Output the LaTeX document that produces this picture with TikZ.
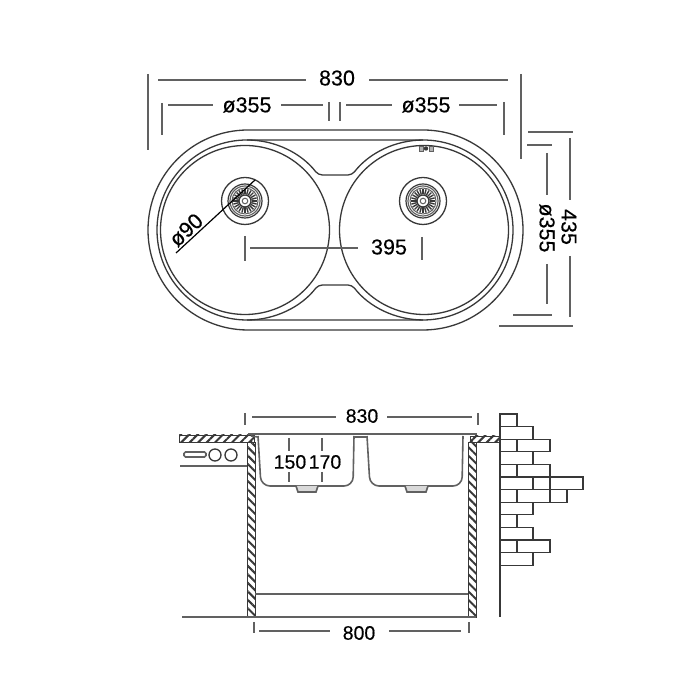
\documentclass[tikz,border=0pt]{standalone}
\usepackage{fontspec}
\setmainfont{Liberation Sans}
\usetikzlibrary{patterns.meta}
\definecolor{inkdark}{gray}{0.22}
\definecolor{inkdim}{gray}{0.38}
\newfontfamily\dimfont[FakeBold=0.35]{Liberation Sans}
\tikzset{
	outline/.style={draw=inkdark,line width=1.3},
	sink/.style={draw=inkdim,line width=1.6},
	dim/.style={draw=inkdim,line width=1.9},
	dimtext/.style={text=black,inner sep=0pt,font=\dimfont\fontsize{21.5}{22}\selectfont},
	dimsmall/.style={dimtext,font=\dimfont\fontsize{19.5}{20}\selectfont},
	hatched/.style={draw=inkdark,line width=0.8,pattern={Lines[angle=#1,distance=6pt,line width=2pt]},pattern color=inkdark},
	brick/.style={draw=inkdark,line width=1.2}
}
\begin{document}
\begin{tikzpicture}[x=1pt,y=1pt]
	\useasboundingbox (0,0) rectangle (700,700);
	% plan view: rim
	\draw [outline] (248,570) arc (90:270:100) -- (423,370) arc (-90:90:100) -- cycle;
	\draw [outline] (247,560) arc (90:270:90) -- (423,380) arc (-90:90:90) -- cycle;
	\draw [outline,rounded corners=4pt] (247,560) arc (90:37.7:90) -- (352,525) arc (142.3:90:90);
	\draw [outline,rounded corners=4pt] (247,380) arc (-90:-37.7:90) -- (352,415) arc (-142.3:-90:90);
	\draw [outline] (245,470) circle (84.5);
	\draw [outline] (424,470) circle (84.5);
	% drains
	\foreach \cx in {245,423} {
		\begin{scope}[shift={(\cx,499)}]
			\draw [outline] (0,0) circle (23.5);
			\draw [draw=inkdark,line width=1.2] (0,0) circle (17);
			\draw [draw=inkdim,line width=1.2] (0,0) circle (15);
			\draw [draw=inkdim,line width=1] (0,0) circle (13);
			\foreach \a in {0,15,...,345}
				\draw [draw=inkdark,line width=1.4] (\a:6.5) -- (\a:12);
			\draw [outline] (0,0) circle (6);
			\draw [draw=inkdim,line width=1] (0,0) circle (2.8);
		\end{scope}
	}
	% small mark on the rim
	\draw [draw=inkdim,line width=0.9,fill=black!30] (419,549) rectangle (423,554);
	\fill [inkdark] (426,551.5) circle (2.2);
	\draw [draw=inkdim,line width=0.9,fill=black!30] (429,549) rectangle (433,554);
	% o90 leader
	\draw [draw=black,line width=1.2] (176,447) -- (255,520);
	\node [dimtext,rotate=43] (radius90) at (186,470) {ø90};
	% plan view: width dimensions
	\node [dimtext] (width830) at (337,622) {830};
	\draw [dim] (158,620) -- (306,620);
	\draw [dim] (369,620) -- (508,620);
	\draw [dim] (148,626) -- (148,550);
	\draw [dim] (521,626) -- (521,541);
	\node [dimtext] (bowlleft) at (247,595) {ø355};
	\node [dimtext] (bowlright) at (426,595) {ø355};
	\draw [dim] (168,595) -- (213,595);
	\draw [dim] (281,595) -- (323,595);
	\draw [dim] (346,595) -- (392,595);
	\draw [dim] (459,595) -- (497,595);
	\draw [dim] (162,597) -- (162,565);
	\draw [dim] (329,598) -- (329,579);
	\draw [dim] (340,598) -- (340,579);
	\draw [dim] (504,598) -- (504,565);
	% centre distance
	\node [dimtext] (centres395) at (389,453) {395};
	\draw [dim] (250,452) -- (358,452);
	\draw [dim] (245,464) -- (245,439);
	\draw [dim] (422,463) -- (422,440);
	% plan view: height dimensions
	\node [dimtext,rotate=-90] (height435) at (569,473) {435};
	\draw [dim] (528,568) -- (573,568);
	\draw [dim] (499,374) -- (573,374);
	\draw [dim] (570,562) -- (570,500);
	\draw [dim] (570,444) -- (570,383);
	\node [dimtext,rotate=-90] (bowlheight) at (547,472) {ø355};
	\draw [dim] (527,555) -- (552,555);
	\draw [dim] (513,385) -- (552,385);
	\draw [dim] (547,547) -- (547,505);
	\draw [dim] (547,436) -- (547,396);
	% section: counter and cabinet walls
	\draw [hatched=45] (179,265) rectangle (254,258);
	\draw [hatched=45] (470,264) rectangle (500,258);
	\draw [hatched=-45] (247,258) rectangle (255,83);
	\draw [hatched=-45] (468,258) rectangle (476,83);
	\draw [dim] (182,83) -- (476,83);
	\draw [sink] (255,106) -- (468,106);
	\draw [sink] (180,234) -- (247,234);
	\draw [sink,rounded corners=1.5pt] (184,243) rectangle (206,248);
	\draw [outline] (215,245) circle (6);
	\draw [outline] (231,245) circle (6);
	% section: sink
	\draw [draw=inkdim,line width=2.2] (248,266) -- (477,266);
	\draw [sink] (251,264) -- (258,263);
	\draw [sink,rounded corners=9pt] (258,264) -- (261,214) -- (353,214) -- (354,264);
	\draw [sink] (354,263) -- (367,263);
	\draw [sink,rounded corners=9pt] (367,264) -- (370,214) -- (462,214) -- (463,264);
	\draw [sink,fill=black!15] (296,214) -- (298,208) -- (316,208) -- (318,214);
	\draw [sink,fill=black!15] (405,214) -- (407,208) -- (426,208) -- (428,214);
	% depth dimensions
	\node [dimsmall] (depth150) at (290,238) {150};
	\node [dimsmall] (depth170) at (325,238) {170};
	\draw [dim] (289,262) -- (289,249);
	\draw [dim] (289,228) -- (289,218);
	\draw [dim] (322,262) -- (322,249);
	\draw [dim] (322,228) -- (322,218);
	% section: width dimensions
	\node [dimsmall] (top830) at (362,284) {830};
	\draw [dim] (252,283) -- (336,283);
	\draw [dim] (387,283) -- (472,283);
	\draw [dim] (245,287) -- (245,275);
	\draw [dim] (478,287) -- (478,275);
	\node [dimsmall] (bottom800) at (359,67) {800};
	\draw [dim] (259,69) -- (330,69);
	\draw [dim] (389,69) -- (461,69);
	\draw [dim] (254,78) -- (254,67);
	\draw [dim] (469,78) -- (469,67);
	% brick wall, one row each: right end and the joints
	\draw [brick] (500,286) -- (500,83);
	\foreach \row/\rowend/\joints in {0/517/{},1/533/{},2/550/{517},3/533/{},4/550/{517},5/583/{533,550},6/567/{517,550},7/533/{},8/517/{},9/533/{},10/550/{517},11/533/{}} {
		\pgfmathsetmacro{\rowtop}{286-12.6*\row}
		\pgfmathsetmacro{\rowbot}{\rowtop-12.6}
		\draw [brick] (500,\rowtop) rectangle (\rowend,\rowbot);
		\foreach \jx in \joints
			\draw [brick] (\jx,\rowtop) -- (\jx,\rowbot);
	}
\end{tikzpicture}
\end{document}
